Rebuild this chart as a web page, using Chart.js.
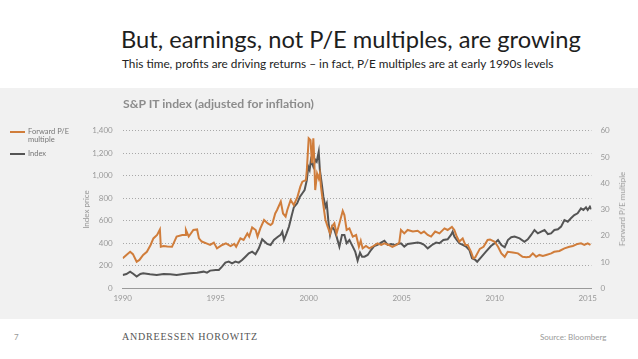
<!DOCTYPE html>
<html>
<head>
<meta charset="utf-8">
<script src="https://cdn.jsdelivr.net/npm/chart.js@4.4.1/dist/chart.umd.min.js"></script>
<style>
  html, body { margin: 0; padding: 0; background: #ffffff; }
  body { width: 638px; height: 359px; position: relative; overflow: hidden; font-family: Lato, "Open Sans", sans-serif; }
  #panel { position: absolute; left: 0; top: 88px; width: 638px; height: 231px; background: #f1f1f1; }
  #c { position: absolute; left: 0; top: 88px; }
  .t { position: absolute; white-space: nowrap; }
  #title { left: 121px; top: 25px; font-size: 23.7px; color: #1e1e1e; line-height: 28px; }
  #sub { left: 122px; top: 56px; font-size: 11.8px; color: #222; line-height: 15px; }
  #ctitle { left: 123px; top: 96px; font-size: 12.2px; color: #8c8c8c; font-weight: bold; line-height: 16px; }
  .lg { position: absolute; left: 10px; width: 15px; height: 2px; }
  .lgt { position: absolute; left: 28px; font-size: 7.5px; color: #777; line-height: 8px; }
  #rtitle { left: 622px; top: 209px; font-size: 8px; color: #999; transform: translate(-50%, -50%) rotate(-90deg); transform-origin: center; }
  #pg { left: 14px; top: 332px; font-size: 8px; color: #999; }
  #brand { left: 122px; top: 331px; font-family: "Liberation Serif", "DejaVu Serif", serif; font-size: 10px; letter-spacing: 0.8px; color: #555; }
  #src { left: 540px; top: 332px; font-size: 8px; color: #999; }
</style>
</head>
<body>
<div id="panel"></div>
<canvas id="c" width="638" height="231"></canvas>
<div class="t" id="title">But, earnings, not P/E multiples, are growing</div>
<div class="t" id="sub">This time, profits are driving returns – in fact, P/E multiples are at early 1990s levels</div>
<div class="t" id="ctitle">S&amp;P IT index (adjusted for inflation)</div>
<div class="lg" style="top:131px;background:#d07d3b"></div>
<div class="t lgt" style="top:128px">Forward P/E<br>multiple</div>
<div class="lg" style="top:153px;background:#555"></div>
<div class="t lgt" style="top:150px">Index</div>
<div class="t" id="rtitle">Forward P/E multiple</div>
<div class="t" id="pg">7</div>
<div class="t" id="brand">ANDREESSEN HOROWITZ</div>
<div class="t" id="src">Source: Bloomberg</div>
<script>
// Forward P/E multiple (right axis)
const peYears = [1990.0,1990.2,1990.4,1990.55,1990.75,1990.9,1991.1,1991.3,1991.5,1991.65,1991.85,1992.0,1992.05,1992.2,1992.4,1992.65,1992.9,1993.2,1993.35,1993.4,1993.55,1993.8,1994.0,1994.1,1994.25,1994.5,1994.7,1994.9,1995.07,1995.35,1995.55,1995.8,1996.0,1996.1,1996.33,1996.5,1996.7,1996.8,1996.96,1997.15,1997.25,1997.4,1997.6,1997.8,1997.95,1998.05,1998.2,1998.3,1998.5,1998.62,1998.76,1998.85,1999.03,1999.2,1999.4,1999.55,1999.66,1999.85,1999.9,2000.0,2000.1,2000.17,2000.25,2000.3,2000.35,2000.45,2000.54,2000.6,2000.66,2000.75,2000.9,2001.02,2001.15,2001.25,2001.38,2001.5,2001.65,2001.83,2001.92,2002.04,2002.19,2002.37,2002.55,2002.7,2002.8,2002.9,2003.08,2003.26,2003.48,2003.7,2003.9,2004.07,2004.3,2004.5,2004.72,2004.87,2004.96,2005.14,2005.32,2005.6,2005.86,2006.04,2006.2,2006.4,2006.58,2006.8,2007.03,2007.3,2007.47,2007.7,2007.83,2007.96,2008.1,2008.28,2008.42,2008.55,2008.73,2008.85,2008.96,2009.2,2009.4,2009.62,2009.75,2010.0,2010.18,2010.36,2010.54,2010.7,2010.98,2011.25,2011.5,2011.7,2011.88,2012.05,2012.23,2012.4,2012.59,2012.77,2013.04,2013.2,2013.48,2013.75,2014.02,2014.2,2014.46,2014.64,2014.82,2015.0,2015.15];
const peValues = [11.4,12.7,13.9,13.0,10.1,10.8,12.7,13.9,16.5,19.0,20.3,22.4,15.8,16.1,15.9,15.8,19.7,20.3,20.3,22.2,19.7,22.2,22.4,19.0,17.8,17.1,16.5,17.4,15.2,16.5,17.1,16.1,16.9,15.8,19.0,18.4,20.9,19.7,23.2,22.2,19.7,22.8,26.0,24.7,24.1,24.7,28.5,29.8,33.0,28.5,27.3,29.8,33.6,31.7,34.9,38.7,40.6,41.2,45.0,57.1,56.4,47.6,57.1,48.8,37.4,43.7,41.8,43.7,38.7,33.6,26.0,23.5,20.9,23.5,24.7,20.9,24.7,29.5,27.9,22.2,22.8,19.7,20.3,15.8,18.1,15.2,16.1,15.2,16.1,17.1,16.5,17.1,16.5,15.8,16.5,17.4,22.2,20.9,22.2,21.6,21.9,20.9,21.6,20.3,19.7,21.6,20.9,22.8,22.2,23.4,22.2,19.7,17.8,19.0,16.5,16.5,13.9,11.4,11.8,15.0,15.8,18.4,18.6,17.7,15.8,13.3,12.0,13.9,13.6,13.3,12.0,11.8,12.0,13.3,12.0,12.7,12.3,12.7,13.3,13.9,14.2,15.2,15.8,16.1,16.9,17.1,16.5,17.1,16.5];
// S&P IT index, inflation adjusted (left axis)
const idxYears = [1990.0,1990.2,1990.4,1990.58,1990.75,1990.95,1991.1,1991.47,1991.83,1992.2,1992.55,1992.9,1993.27,1993.63,1994.0,1994.35,1994.53,1994.7,1995.0,1995.17,1995.34,1995.52,1995.7,1995.88,1996.06,1996.24,1996.42,1996.6,1996.78,1996.96,1997.14,1997.32,1997.5,1997.64,1997.77,1997.95,1998.13,1998.31,1998.49,1998.58,1998.67,1998.81,1998.94,1999.07,1999.2,1999.38,1999.53,1999.66,1999.78,1999.9,1999.98,2000.05,2000.12,2000.25,2000.36,2000.43,2000.54,2000.6,2000.7,2000.79,2000.9,2000.97,2001.07,2001.15,2001.26,2001.38,2001.5,2001.65,2001.79,2001.92,2002.04,2002.19,2002.37,2002.5,2002.63,2002.76,2002.87,2003.0,2003.17,2003.35,2003.53,2003.7,2003.89,2004.07,2004.25,2004.43,2004.62,2004.8,2004.96,2005.14,2005.32,2005.6,2005.86,2006.04,2006.22,2006.4,2006.63,2006.85,2007.03,2007.24,2007.47,2007.65,2007.74,2007.83,2007.96,2008.1,2008.28,2008.46,2008.64,2008.78,2008.96,2009.06,2009.3,2009.53,2009.8,2010.0,2010.18,2010.36,2010.54,2010.71,2010.89,2011.07,2011.34,2011.6,2011.78,2011.96,2012.14,2012.32,2012.5,2012.68,2012.86,2013.03,2013.21,2013.4,2013.57,2013.75,2013.93,2014.1,2014.28,2014.46,2014.64,2014.77,2014.91,2015.0,2015.12,2015.2];
const idxValues = [118,127,148,127,104,127,133,124,118,127,124,118,127,133,139,148,139,157,163,163,192,228,237,222,237,228,252,281,311,326,302,355,435,414,394,385,429,453,474,503,429,488,548,636,719,755,814,844,873,962,1080,1051,1140,1080,1140,1125,1214,1051,932,814,725,755,577,474,548,518,459,370,474,474,400,429,370,326,246,317,281,281,296,340,376,385,406,423,385,394,385,394,400,370,394,400,406,400,385,355,385,406,400,429,435,474,503,459,429,400,385,370,340,266,252,236,281,326,376,400,429,385,364,429,453,459,444,414,435,474,518,488,503,518,482,488,518,524,548,607,592,622,651,666,710,696,719,696,725,701];
const xTicks = [1990,1995,2000,2005,2010,2015];
const leftTicks = [0,200,400,600,800,1000,1200,1400];
const rightTicks = [0,10,20,30,40,50,60];

const tickFont = { family: 'Lato, "Open Sans", sans-serif', size: 8 };
const tickColor = '#999999';

new Chart(document.getElementById('c'), {
  type: 'line',
  data: {
    datasets: [
      { label: 'Forward P/E multiple', yAxisID: 'y2', data: peYears.map((x,i)=>({x, y: peValues[i]})),
        borderColor: '#d07d3b', borderWidth: 2, pointRadius: 0, tension: 0 },
      { label: 'Index', yAxisID: 'y', data: idxYears.map((x,i)=>({x, y: idxValues[i]})),
        borderColor: '#555555', borderWidth: 2, pointRadius: 0, tension: 0 }
    ]
  },
  options: {
    responsive: false, animation: false, devicePixelRatio: 1,
    layout: { padding: { top: 42.7, left: 0, right: 0, bottom: 0 } },
    plugins: { legend: { display: false }, tooltip: { enabled: false }, title: { display: false } },
    scales: {
      x: {
        type: 'linear', min: 1990, max: 2015.2,
        afterBuildTicks: s => { s.ticks = xTicks.map(v => ({ value: v })); },
        afterFit: s => { s.height = 30.7; },
        grid: { drawOnChartArea: false, drawTicks: false },
        border: { display: true, color: '#9a9a9a', width: 1 },
        ticks: { font: tickFont, color: tickColor, padding: 5, maxRotation: 0, callback: v => String(v) }
      },
      y: {
        position: 'left', min: 0, max: 1400,
        afterBuildTicks: s => { s.ticks = leftTicks.map(v => ({ value: v })); },
        afterFit: s => { s.width = 122.7; },
        grid: { color: c => c.tick && c.tick.value === 0 ? 'rgba(0,0,0,0)' : '#a8a8a8', lineWidth: 1, drawTicks: false },
        border: { display: false, dash: [1, 2] },
        ticks: { font: tickFont, color: tickColor, padding: 10, callback: v => v.toLocaleString('en-US') },
        title: { display: true, text: 'Index price', font: tickFont, color: tickColor, padding: { top: 81.2, bottom: 0 } }
      },
      y2: {
        position: 'right', min: 0, max: 60,
        afterBuildTicks: s => { s.ticks = rightTicks.map(v => ({ value: v })); },
        afterFit: s => { s.width = 46.6; },
        grid: { drawOnChartArea: false, drawTicks: false },
        border: { display: false },
        ticks: { font: tickFont, color: tickColor, padding: 9 }
      }
    }
  }
});
</script>
</body>
</html>
